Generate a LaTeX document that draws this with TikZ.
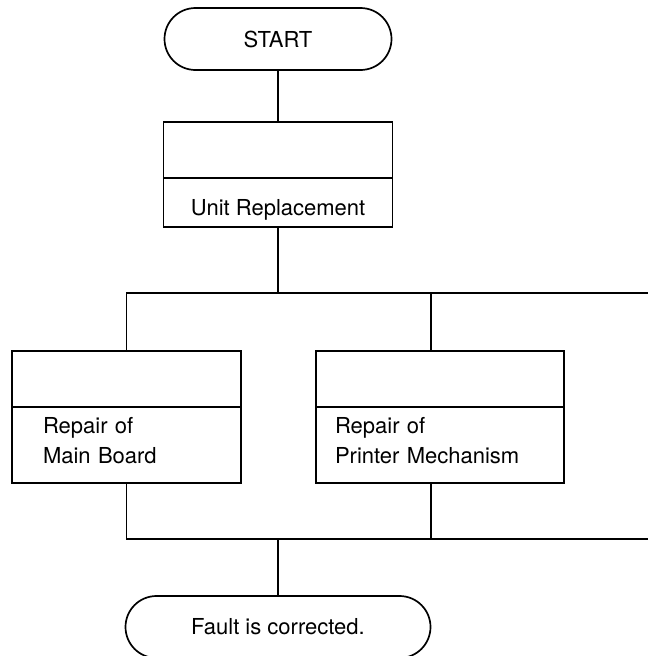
\documentclass[tikz,border=0pt]{standalone}
\usepackage{fontspec}
\setmainfont{TeX Gyre Heros}
\usetikzlibrary{positioning}
\begin{document}
\begin{tikzpicture}[x=1pt, y=-1pt, line width=1.7pt,
    every node/.style={font=\fontsize{22}{30}\selectfont},
    term/.style={draw, rounded corners=31pt, minimum height=62pt, inner sep=0pt, outer sep=0pt},
    cell/.style={draw, inner sep=0pt, outer sep=0pt}]
    \useasboundingbox (0,0) rectangle (648,656);

    % Start
    \node[term, minimum width=227pt] (start) at (278,39) {START};

    % Unit replacement (top)
    \node[cell, minimum width=229pt, minimum height=56pt] (unittop) at (278,150) {};
    \node[cell, minimum width=229pt, text height=37pt, text depth=12pt,
        below=0pt of unittop] (unit) {Unit Replacement};

    % Main board (left)
    \node[cell, minimum width=229pt, minimum height=56pt] (mbtop) at (126.5,379) {};
    \node[cell, text width=167pt, inner xsep=31pt, align=left, text height=26pt,
        text depth=50pt, below=0pt of mbtop] (mb) {Repair of\\Main Board};

    % Printer mechanism (right)
    \node[cell, minimum width=248pt, minimum height=56pt] (pmtop) at (440,379) {};
    \node[cell, text width=210pt, inner xsep=19pt, align=left, text height=26pt,
        text depth=50pt, below=0pt of pmtop] (pm) {Repair of\\Printer Mechanism};

    % End (runs off the bottom edge)
    \node[term, minimum width=305pt] (fault) at (278,627) {Fault is corrected.};

    % Branch and join lines, both open to the right
    \coordinate (split) at (648,293);
    \coordinate (join) at (648,539);
    \coordinate (pmin) at (431,351);
    \coordinate (pmout) at (431,483);
    \draw (start) -- (unittop);
    \draw (unit) -- (unit.south |- split);
    \draw (mbtop) |- (split);
    \draw (pmin) -- (pmin |- split);
    \draw (mb) |- (join);
    \draw (pmout) -- (pmout |- join);
    \draw (fault) -- (fault.north |- join);
\end{tikzpicture}
\end{document}
